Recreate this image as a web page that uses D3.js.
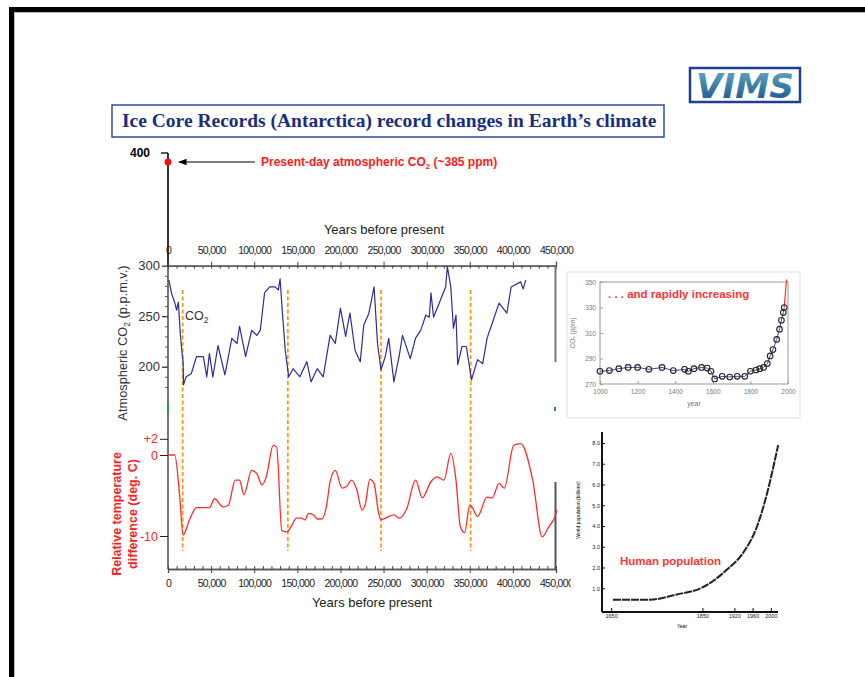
<!DOCTYPE html>
<html>
<head>
<meta charset="utf-8">
<script src="https://cdn.jsdelivr.net/npm/d3@7"></script>
<style>
body { margin: 0; background: #fff; }
svg { display: block; font-family: "Liberation Sans", Arial, sans-serif; }
</style>
</head>
<body>
<svg id="chart" width="865" height="677"></svg>
<script>
// ice core CO2 (years before present, ppmv)
var co2Core = [[1000,286],[4000,273],[8000,263],[10000,256],[12000,264],[14000,236],[16000,216],[17500,205],
  [18000,182],[21000,190],[27000,193],[33000,210],[41000,210],[45000,190],[48000,213],[52000,190],[58000,221],
  [66000,192],[74000,228],[80000,223],[83000,240],[90000,210],[97000,236],[103000,231],[107000,236],[112000,273],
  [118000,279],[124000,279],[128000,276],[130000,287],[133000,250],[136000,216],[140000,190],[145000,198],
  [153000,190],[161000,205],[166000,185],[173000,198],[180000,190],[188000,231],[194000,223],[200000,258],
  [206000,230],[211000,253],[217000,216],[223000,205],[227000,241],[233000,253],[239000,279],[243000,223],
  [247000,197],[252000,210],[256000,228],[262000,185],[268000,210],[272000,231],[281000,208],[287000,228],
  [293000,236],[299000,251],[303000,249],[305000,273],[308000,249],[316000,266],[322000,279],[324000,299],
  [328000,279],[331000,238],[334000,251],[336000,202],[341000,220],[346000,220],[352000,187],[359000,207],
  [365000,203],[370000,228],[376000,243],[384000,263],[393000,253],[398000,279],[409000,284],[412000,277],[415000,286]];

// relative temperature (years before present, deg C)
var tempCore = [[0,0],[7800,0],[13600,-5.1],[17500,-9.9],[25000,-8],[33000,-6.5],[48000,-6.5],[54000,-5.4],
  [64000,-6.4],[70000,-6.2],[78000,-3.1],[83000,-3.1],[88000,-4.9],[97000,-1.9],[103000,-2.3],[109000,-3.7],
  [114000,-2.7],[122000,1.2],[126000,1],[132000,-9.3],[138000,-9.5],[143000,-8.8],[149000,-7.8],[155000,-7.8],
  [159000,-8],[163000,-7.2],[169000,-7.4],[173000,-7.9],[178000,-7.9],[184000,-6.2],[188000,-3.3],[194000,-1.9],
  [202000,-4.1],[207000,-3.9],[213000,-3.1],[219000,-4.3],[225000,-6.8],[229000,-6],[234000,-3],[239000,-3.5],
  [244000,-7],[247000,-8],[254000,-7.7],[262000,-7.4],[268000,-7.8],[277000,-6.6],[287000,-3.1],[295000,-5.3],
  [305000,-3.3],[312000,-2.7],[320000,-3.1],[328000,0.2],[334000,-3.1],[339000,-8.8],[344000,-9.6],[350000,-6.2],
  [353000,-6.5],[359000,-7.6],[370000,-5.2],[376000,-5.3],[384000,-3.5],[390000,-4.1],[401000,1.2],[409000,1.4],
  [423000,-3.1],[434000,-10.1],[442000,-8.8],[448000,-7.8],[451000,-6.8]];

// glacial terminations marked with dashed lines
var terminations = [17000, 139000, 247000, 351000];

var presentCO2 = 385;

// last millennium CO2 (year AD, ppm)
var co2Recent = [[1000,280],[1050,280.5],[1100,282],[1150,283],[1200,283],[1260,281.5],[1330,283],[1390,280.5],
  [1450,281.5],[1470,280],[1500,282],[1540,283],[1570,282.5],[1590,280],[1610,274],[1650,276],[1690,275.5],
  [1730,276],[1770,276],[1800,280],[1830,281],[1850,282],[1870,283],[1890,286],[1905,292],[1920,297],
  [1940,305],[1955,313],[1965,320],[1975,326],[1980,330]];
var co2Rapid = [[1980,330],[1992,352]];

// world population (year, billions)
var popData = [[1654,0.45],[1735,0.45],[1794,0.7],[1851,1.05],[1904,1.9],[1939,2.7],[1970,4.0],[1992,5.6],[2009,7.2],[2016,7.9]];
var popYearTicks = [1650, 1850, 1920, 1960, 2000];
var popTicks = [1, 2, 3, 4, 5, 6, 7, 8];

var yearTicks = d3.range(0, 450001, 50000);
var co2Ticks = [200, 250, 300];
var tempTicks = [2, 0, -10];
var recentYearTicks = d3.range(1000, 2001, 200);
var recentCO2Ticks = [270, 290, 310, 330, 350];

var svg = d3.select("#chart");

// slide frame
svg.append("rect").attr("x", 9).attr("y", 7).attr("width", 856).attr("height", 5).attr("fill", "#000");
svg.append("rect").attr("x", 9).attr("y", 7).attr("width", 5).attr("height", 670).attr("fill", "#000");
svg.append("path").attr("d", "M14.5,677V12.5H865").attr("fill", "none").attr("stroke", "#bbb").attr("stroke-width", 1);

// logo
var defs = svg.append("defs");
var grad = defs.append("linearGradient").attr("id", "vimsGrad").attr("x1", 0).attr("y1", 0).attr("x2", 0).attr("y2", 1);
grad.append("stop").attr("offset", "0%").attr("stop-color", "#6fb0c4");
grad.append("stop").attr("offset", "50%").attr("stop-color", "#3b7fa6");
grad.append("stop").attr("offset", "100%").attr("stop-color", "#1d4a8c");
svg.append("rect").attr("x", 690).attr("y", 68).attr("width", 110).attr("height", 34)
    .attr("fill", "#fff").attr("stroke", "#1c3f94").attr("stroke-width", 2.5);
svg.append("text").attr("x", 696).attr("y", 98).attr("textLength", 98).attr("lengthAdjust", "spacingAndGlyphs")
    .style("font-family", "'DejaVu Sans', sans-serif").style("font-weight", "bold").style("font-style", "italic")
    .style("font-size", "34px").attr("fill", "url(#vimsGrad)").text("VIMS");

// title
svg.append("rect").attr("x", 112).attr("y", 105).attr("width", 552).attr("height", 32)
    .attr("fill", "#fff").attr("stroke", "#2a4d9a").attr("stroke-width", 1.5);
svg.append("text").attr("x", 122).attr("y", 127)
    .style("font-family", "'Liberation Serif', 'Times New Roman', serif").style("font-weight", "bold")
    .style("font-size", "19.5px").attr("fill", "#1a2e80")
    .text("Ice Core Records (Antarctica) record changes in Earth\u2019s climate");

// scales
var x = d3.scaleLinear().domain([0, 450000]).range([168, 556]);
var yC = d3.scaleLinear().domain([300, 200]).range([265.7, 366.7]);
var yT = d3.scaleLinear().domain([0, -10]).range([455, 536]);
var yUp = d3.scaleLinear().domain([400, 385]).range([153, 162]);

// left axis line, joins the broken 400 axis
svg.append("line").attr("x1", 168).attr("x2", 168).attr("y1", yUp(400)).attr("y2", 265)
    .attr("stroke", "#333").attr("stroke-width", 2);
svg.append("line").attr("x1", 168).attr("x2", 168).attr("y1", 265).attr("y2", 569)
    .attr("stroke", "#777").attr("stroke-width", 2);
svg.append("line").attr("x1", 161).attr("x2", 168).attr("y1", yUp(400)).attr("y2", yUp(400))
    .attr("stroke", "#222").attr("stroke-width", 1.5);
svg.append("text").attr("x", 150).attr("y", yUp(400) + 4).attr("text-anchor", "end")
    .style("font-size", "12px").style("font-weight", "bold").text("400");
svg.append("rect").attr("x", 167).attr("y", 402).attr("width", 2).attr("height", 12).attr("fill", "#2a9a4a");
svg.append("rect").attr("x", 554).attr("y", 407).attr("width", 2).attr("height", 4).attr("fill", "#2a9a4a");

// present-day marker and arrow
defs.append("marker").attr("id", "arrow").attr("viewBox", "0 0 10 10").attr("refX", 9).attr("refY", 5)
    .attr("markerWidth", 7).attr("markerHeight", 7).attr("orient", "auto")
  .append("path").attr("d", "M0,1L10,5L0,9z").attr("fill", "#000");
svg.append("circle").attr("cx", x(0)).attr("cy", yUp(presentCO2)).attr("r", 3.5).attr("fill", "#ee1111");
svg.append("line").attr("x1", 255).attr("x2", 179).attr("y1", yUp(presentCO2)).attr("y2", yUp(presentCO2))
    .attr("stroke", "#000").attr("stroke-width", 1.2).attr("marker-end", "url(#arrow)");
var pres = svg.append("text").attr("x", 261).attr("y", yUp(presentCO2) + 4)
    .style("font-size", "12px").style("font-weight", "bold").attr("fill", "#ff1a1a");
pres.append("tspan").text("Present-day atmospheric CO");
pres.append("tspan").attr("dy", 3).style("font-size", "8px").text("2");
pres.append("tspan").attr("dy", -3).text(" (~385 ppm)");

// top year axis
var topAxis = svg.append("g").attr("transform", "translate(0,265.7)")
    .call(d3.axisTop(x).tickValues(yearTicks).tickFormat(d3.format(",")).tickSize(4).tickPadding(8));
svg.append("g").attr("transform", "translate(0,265.7)")
    .call(d3.axisTop(x).tickValues(d3.range(0, 450001, 10000)).tickFormat("").tickSize(-3).tickSizeOuter(0));
svg.append("text").attr("x", 384).attr("y", 234).attr("text-anchor", "middle")
    .style("font-size", "13px").attr("fill", "#222").text("Years before present");

// bottom year axis
var botAxis = svg.append("g").attr("transform", "translate(0,569)")
    .call(d3.axisBottom(x).tickValues(yearTicks).tickFormat(d3.format(",")).tickSize(4).tickPadding(7));
svg.append("g").attr("transform", "translate(0,569)")
    .call(d3.axisBottom(x).tickValues(d3.range(0, 450001, 10000)).tickFormat("").tickSize(-3).tickSizeOuter(0));
svg.append("text").attr("x", 372).attr("y", 607).attr("text-anchor", "middle")
    .style("font-size", "13px").attr("fill", "#222").text("Years before present");

[topAxis, botAxis].forEach(function(g) {
  g.selectAll("text").style("font-size", "10.5px").style("letter-spacing", "-0.7px").attr("fill", "#222");
});
svg.selectAll(".domain").attr("stroke", "#555").attr("stroke-width", 1.3);
svg.selectAll(".tick line").attr("stroke", "#444");

// right borders of the panels
svg.append("line").attr("x1", 555.5).attr("x2", 555.5).attr("y1", 265.7).attr("y2", 362).attr("stroke", "#777").attr("stroke-width", 2);
svg.append("line").attr("x1", 555.5).attr("x2", 555.5).attr("y1", 482).attr("y2", 569).attr("stroke", "#555").attr("stroke-width", 2);

// CO2 axis
var co2Axis = svg.append("g").attr("transform", "translate(168,0)")
    .call(d3.axisLeft(yC).tickValues(co2Ticks).tickSize(6).tickPadding(2));
co2Axis.select(".domain").remove();
co2Axis.selectAll("text").style("font-size", "13px").attr("fill", "#333");
var co2Minor = svg.append("g").attr("transform", "translate(168,0)")
    .call(d3.axisLeft(yC).tickValues(d3.range(180, 301, 10)).tickFormat("").tickSize(3));
co2Minor.select(".domain").remove();
co2Minor.selectAll("line").attr("stroke", "#555");
svg.append("text").attr("transform", "translate(127,343) rotate(-90)").attr("text-anchor", "middle")
    .style("font-size", "12.8px").attr("fill", "#333")
    .call(function(t) {
      t.append("tspan").text("Atmospheric CO");
      t.append("tspan").attr("dy", 3).style("font-size", "8.5px").text("2");
      t.append("tspan").attr("dy", -3).text(" (p.p.m.v.)");
    });

// temperature axis
var tAxis = svg.append("g").attr("transform", "translate(168,0)")
    .call(d3.axisLeft(yT).tickValues(tempTicks).tickSize(8).tickPadding(2)
      .tickFormat(function(d) { return d > 0 ? "+" + d : String(d); }));
tAxis.select(".domain").remove();
tAxis.selectAll("text").style("font-size", "12.5px").attr("fill", "#ff2020");
tAxis.selectAll("line").attr("stroke", "#222");
svg.append("text").attr("transform", "translate(121,514) rotate(-90)").attr("text-anchor", "middle")
    .style("font-size", "12.5px").style("font-weight", "bold").attr("fill", "#ff2020").text("Relative temperature");
svg.append("text").attr("transform", "translate(137,514) rotate(-90)").attr("text-anchor", "middle")
    .style("font-size", "12.5px").style("font-weight", "bold").attr("fill", "#ff2020").text("difference  (deg. C)");

// dashed termination lines
svg.selectAll(".term").data(terminations).enter().append("line")
    .attr("x1", x).attr("x2", x).attr("y1", 290).attr("y2", 551)
    .attr("stroke", "#ff9a10").attr("stroke-width", 1.8).attr("stroke-dasharray", "4,2.5");

// CO2 line
svg.append("path").datum(co2Core)
    .attr("d", d3.line().x(function(d) { return x(d[0]); }).y(function(d) { return yC(d[1]); }))
    .attr("fill", "none").attr("stroke", "#2e2c96").attr("stroke-width", 1.2).attr("stroke-linejoin", "round");
svg.append("text").attr("x", 185).attr("y", 320).style("font-size", "12.5px").attr("fill", "#333")
    .call(function(t) {
      t.append("tspan").text("CO");
      t.append("tspan").attr("dy", 3).style("font-size", "8.5px").text("2");
    });

// temperature line
svg.append("path").datum(tempCore)
    .attr("d", d3.line().curve(d3.curveMonotoneX).x(function(d) { return x(d[0]); }).y(function(d) { return yT(d[1]); }))
    .attr("fill", "none").attr("stroke", "#ff2b2b").attr("stroke-width", 1.3);

// inset: last millennium CO2
var inset = svg.append("g");
inset.append("rect").attr("x", 567).attr("y", 272).attr("width", 233).attr("height", 146)
    .attr("fill", "#fff").attr("stroke", "#e2e2e2");
var xR = d3.scaleLinear().domain([1000, 2000]).range([600, 788]);
var yR = d3.scaleLinear().domain([270, 350]).range([384, 282]);
inset.append("rect").attr("x", 600).attr("y", 282).attr("width", 188).attr("height", 102)
    .attr("fill", "none").attr("stroke", "#999");
var rx = inset.append("g").attr("transform", "translate(0,384)")
    .call(d3.axisBottom(xR).tickValues(recentYearTicks).tickFormat(d3.format("d")).tickSize(-3).tickPadding(5));
var ry = inset.append("g").attr("transform", "translate(600,0)")
    .call(d3.axisLeft(yR).tickValues(recentCO2Ticks).tickSize(-3).tickPadding(4));
[rx, ry].forEach(function(g) {
  g.select(".domain").remove();
  g.selectAll("text").style("font-size", "6.5px").attr("fill", "#777");
  g.selectAll("line").attr("stroke", "#999");
});
inset.append("text").attr("x", 694).attr("y", 406).attr("text-anchor", "middle")
    .style("font-size", "7px").attr("fill", "#777").text("year");
inset.append("text").attr("transform", "translate(575,333) rotate(-90)").attr("text-anchor", "middle")
    .style("font-size", "6.5px").attr("fill", "#777").text("CO\u2082 (ppm)");
var recentLine = d3.line().x(function(d) { return xR(d[0]); }).y(function(d) { return yR(d[1]); });
inset.append("path").datum(co2Recent).attr("d", recentLine)
    .attr("fill", "none").attr("stroke", "#3a4aa8").attr("stroke-width", 1);
inset.append("path").datum(co2Rapid).attr("d", recentLine)
    .attr("fill", "none").attr("stroke", "#ff3030").attr("stroke-width", 1.2);
inset.selectAll(".rc").data(co2Recent).enter().append("circle")
    .attr("cx", function(d) { return xR(d[0]); }).attr("cy", function(d) { return yR(d[1]); })
    .attr("r", 2.8).attr("fill", "none").attr("stroke", "#222").attr("stroke-width", 1.1);
inset.append("text").attr("x", 608).attr("y", 298).style("font-size", "11.5px").style("font-weight", "bold")
    .attr("fill", "#ff3333").text(". . . and rapidly increasing");

// inset: human population
var pop = svg.append("g");
pop.append("rect").attr("x", 571).attr("y", 425).attr("width", 232).attr("height", 208).attr("fill", "#fff");
var xP = d3.scaleLinear().domain([1630, 2020]).range([602, 780]);
var yP = d3.scaleLinear().domain([0, 8]).range([609, 443]);
pop.append("line").attr("x1", 602).attr("x2", 602).attr("y1", 432).attr("y2", 612).attr("stroke", "#111").attr("stroke-width", 2);
pop.append("line").attr("x1", 602).attr("x2", 778).attr("y1", 612).attr("y2", 612).attr("stroke", "#111").attr("stroke-width", 2);
var px = pop.append("g").attr("transform", "translate(0,612)")
    .call(d3.axisBottom(xP).tickValues(popYearTicks).tickFormat(d3.format("d")).tickSize(-4).tickPadding(2));
var py = pop.append("g").attr("transform", "translate(602,0)")
    .call(d3.axisLeft(yP).tickValues(popTicks).tickSize(-3).tickPadding(2)
      .tickFormat(function(d) { return d.toFixed(1); }));
[px, py].forEach(function(g) {
  g.select(".domain").remove();
  g.selectAll("text").style("font-size", "5.5px").attr("fill", "#222");
  g.selectAll("line").attr("stroke", "#111");
});
pop.append("text").attr("x", 682).attr("y", 628).attr("text-anchor", "middle").style("font-size", "5px").text("Year");
pop.append("text").attr("transform", "translate(580,510) rotate(-90)").attr("text-anchor", "middle")
    .style("font-size", "5px").text("World population (billions)");
pop.append("path").datum(popData)
    .attr("d", d3.line().curve(d3.curveMonotoneX).x(function(d) { return xP(d[0]); }).y(function(d) { return yP(d[1]); }))
    .attr("fill", "none").attr("stroke", "#222").attr("stroke-width", 2).attr("stroke-dasharray", "8,1");
pop.append("text").attr("x", 620).attr("y", 565).style("font-size", "11.5px").style("font-weight", "bold")
    .attr("fill", "#ff3333").text("Human population");
</script>
</body>
</html>
